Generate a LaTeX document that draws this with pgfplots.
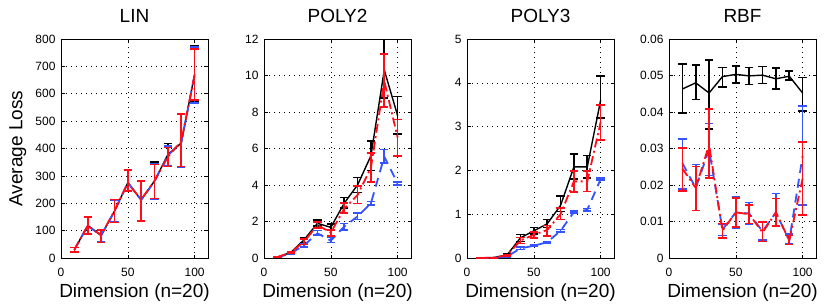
\documentclass[border=0pt]{standalone}
\usepackage{fontspec}
\setmainfont{Liberation Sans}
\usepackage{pgfplots}
\pgfplotsset{compat=1.18}
\usepackage{pgfplotstable}
\definecolor{mblue}{rgb}{0.2,0.33,1}
\definecolor{mred}{rgb}{1,0.05,0.1}

% ---------------- LIN ----------------
\pgfplotstableread{
x y lo hi
10 30 22 38
20 119 88 150
30 82 58 103
40 171 130 212
50 275 244 322
60 212 135 280
70 282 214 350
80 378 336 418
90 420 333 525
100 672 572 776
}\linK
\pgfplotstableread{
x y lo hi
10 30 23 38
20 118 88 150
30 82 58 102
40 170 132 212
50 276 244 322
60 212 133 280
70 280 215 345
80 375 335 410
90 422 330 525
100 668 567 770
}\linB
\pgfplotstableread{
x y lo hi
10 30 21 39
20 118 87 149
30 84 57 102
40 172 130 213
50 273 245 321
60 214 135 281
70 282 218 342
80 370 334 404
90 427 334 526
100 668 577 764
}\linR
% ---------------- POLY2 (x 10^6) ----------------
\pgfplotstableread{
x y lo hi
10 0.05 0.03 0.07
20 0.30 0.26 0.34
30 1.00 0.86 1.13
40 1.90 1.75 2.08
50 1.68 1.50 1.85
60 3.00 2.74 3.32
70 4.00 3.60 4.42
80 5.60 4.80 6.40
90 10.30 8.77 12.00
100 7.80 6.80 8.86
}\polyK
\pgfplotstableread{
x y lo hi
10 0.03 0.02 0.04
20 0.25 0.22 0.28
30 0.70 0.60 0.80
40 1.35 1.25 1.50
50 0.95 0.85 1.12
60 1.72 1.55 1.90
70 2.28 2.10 2.47
80 3.00 2.92 3.10
90 5.55 5.20 5.95
100 4.08 4.00 4.15
}\polyB
\pgfplotstableread{
x y lo hi
10 0.05 0.03 0.07
20 0.30 0.26 0.34
30 0.90 0.75 1.05
40 1.80 1.65 1.98
50 1.40 1.20 1.55
60 2.70 2.45 3.00
70 3.45 2.98 3.96
80 4.95 4.15 5.75
90 9.70 8.27 11.18
100 6.60 5.60 7.60
}\polyR
% ---------------- POLY3 (x 10^10) ----------------
\pgfplotstableread{
x y lo hi
10 0.00 0.00 0.00
20 0.01 0.005 0.015
30 0.07 0.05 0.09
40 0.46 0.38 0.54
50 0.62 0.55 0.70
60 0.78 0.70 0.88
70 1.20 1.06 1.41
80 2.08 1.80 2.37
90 2.08 1.83 2.34
100 3.60 3.20 4.15
}\pthrK
\pgfplotstableread{
x y lo hi
10 0.00 0.00 0.00
20 0.005 0.003 0.007
30 0.03 0.02 0.04
40 0.22 0.19 0.25
50 0.28 0.26 0.30
60 0.36 0.34 0.38
70 0.62 0.59 0.65
80 1.05 1.03 1.07
90 1.10 1.07 1.13
100 1.80 1.78 1.82
}\pthrB
\pgfplotstableread{
x y lo hi
10 0.00 0.00 0.00
20 0.01 0.005 0.015
30 0.06 0.045 0.075
40 0.40 0.33 0.47
50 0.53 0.46 0.60
60 0.64 0.50 0.74
70 1.00 0.88 1.14
80 1.75 1.51 1.99
90 1.75 1.52 1.98
100 3.10 2.69 3.49
}\pthrR
% ---------------- RBF ----------------
\pgfplotstableread{
x y lo hi
10 0.0463 0.0397 0.0532
20 0.0480 0.0434 0.0528
30 0.0452 0.0353 0.0543
40 0.0497 0.0468 0.0522
50 0.0503 0.0480 0.0526
60 0.0499 0.0475 0.0522
70 0.0501 0.0478 0.0525
80 0.0491 0.0463 0.0520
90 0.0498 0.0487 0.0512
100 0.0452 0.0402 0.0495
}\rbfK
\pgfplotstableread{
x y lo hi
10 0.0260 0.0189 0.0326
20 0.0192 0.0130 0.0256
30 0.0297 0.0226 0.0368
40 0.0078 0.0062 0.0093
50 0.0125 0.0083 0.0167
60 0.0122 0.0093 0.0152
70 0.0073 0.0050 0.0098
80 0.0125 0.0087 0.0177
90 0.0048 0.0038 0.0065
100 0.0280 0.0146 0.0417
}\rbfB
\pgfplotstableread{
x y lo hi
10 0.0245 0.0183 0.0301
20 0.0192 0.0130 0.0251
30 0.0310 0.0219 0.0408
40 0.0075 0.0055 0.0095
50 0.0125 0.0085 0.0165
60 0.0120 0.0095 0.0145
70 0.0070 0.0045 0.0098
80 0.0125 0.0088 0.0163
90 0.0048 0.0037 0.0062
100 0.0218 0.0118 0.0318
}\rbfR

\pgfplotsset{
  panel/.style={
    scale only axis, width=147pt, height=219pt,
    xmin=0, xmax=110, xtick={0,50,100},
    tick align=inside, major tick length=3.5pt,
    axis line style={line width=0.8pt},
    every tick/.style={black, line width=0.6pt},
    grid=major,
    grid style={black, line width=0.6pt, dash pattern=on 0.8pt off 4.2pt},
    tick label style={font=\fontsize{12}{12}\selectfont},
    /pgf/number format/assume math mode=true,
    xticklabel style={yshift=-7pt},
    yticklabel style={xshift=-2pt},
    title style={font=\fontsize{19}{19}\selectfont, at={(axis description cs:0.5,1.0457)}, anchor=base},
    xlabel style={font=\fontsize{19}{19}\selectfont, at={(axis description cs:0.5,-0.181)}, anchor=base},
    ylabel style={font=\fontsize{19}{19}\selectfont, at={(axis description cs:-0.262,0.5)}, anchor=base},
    xlabel={Dimension (n=20)},
    scaled y ticks=false,
  },
  errs/.style={
    error bars/y dir=both, error bars/y explicit,
    error bars/error bar style={solid, line width=1.6pt},
    error bars/error mark options={rotate=90, solid, mark size=4.2pt, line width=1.6pt},
  },
  sK/.style={black, line width=1.4pt, solid, errs},
  sB/.style={mblue, line width=1.8pt, dash pattern=on 9pt off 6pt, errs},
  sR/.style={mred, line width=1.8pt, dash pattern=on 9pt off 3.5pt on 2pt off 3.5pt, errs},
  /pgfplots/table/eb/.style={x=x, y=y, y error plus expr=\thisrow{hi}-\thisrow{y}, y error minus expr=\thisrow{y}-\thisrow{lo}},
}

\begin{document}
\begin{tikzpicture}
\path[use as bounding box] (0,0) rectangle (830pt,306pt);

\begin{axis}[panel, at={(61pt,48pt)}, anchor=south west,
  title={LIN}, ymin=0, ymax=800, ytick={0,100,...,800}, ylabel={Average Loss}]
\addplot[sK] table[eb] {\linK};
\addplot[sB] table[eb] {\linB};
\addplot[sR] table[eb] {\linR};
\end{axis}

\begin{axis}[panel, at={(264pt,48pt)}, anchor=south west,
  title={POLY2}, ymin=0, ymax=12, ytick={0,2,...,12}]
\addplot[sK] table[eb] {\polyK};
\addplot[sB] table[eb] {\polyB};
\addplot[sR] table[eb] {\polyR};
\node[anchor=base west, inner sep=0pt, font=\fontsize{9}{9}\selectfont] at (axis description cs:0.005,1.0365) {x 10\raisebox{3.6pt}{\fontsize{6}{6}\selectfont 6}};
\end{axis}

\begin{axis}[panel, at={(467pt,48pt)}, anchor=south west,
  title={POLY3}, ymin=0, ymax=5, ytick={0,1,...,5}]
\addplot[sK] table[eb] {\pthrK};
\addplot[sB] table[eb] {\pthrB};
\addplot[sR] table[eb] {\pthrR};
\node[anchor=base west, inner sep=0pt, font=\fontsize{9}{9}\selectfont] at (axis description cs:0.005,1.0365) {x 10\raisebox{3.6pt}{\fontsize{6}{6}\selectfont 10}};
\end{axis}

\begin{axis}[panel, at={(669pt,48pt)}, anchor=south west,
  title={RBF}, ymin=0, ymax=0.06, ytick={0,0.01,...,0.06},
  yticklabel style={/pgf/number format/fixed, /pgf/number format/precision=2}]
\addplot[sK] table[eb] {\rbfK};
\addplot[sB] table[eb] {\rbfB};
\addplot[sR] table[eb] {\rbfR};
\end{axis}
\end{tikzpicture}
\end{document}
